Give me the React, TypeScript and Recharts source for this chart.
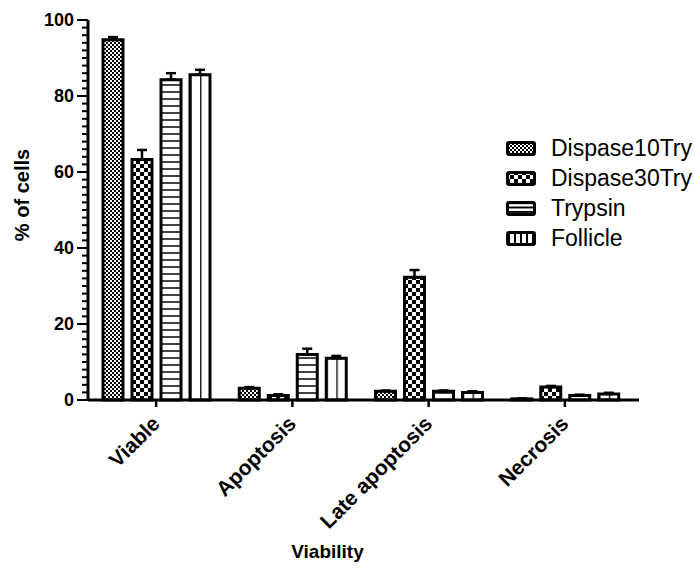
import React from "react"
import { BarChart, Bar, XAxis, YAxis, ErrorBar, Legend, Label } from "recharts"

const categories = ["Viable", "Apoptosis", "Late apoptosis", "Necrosis"]
const seriesNames = ["Dispase10Try", "Dispase30Try", "Trypsin", "Follicle"]
const dispase10 = [94.8, 3.1, 2.3, 0.3]
const dispase10Err = [0.7, 0.3, 0.2, 0.1]
const dispase30 = [63.3, 1.2, 32.3, 3.4]
const dispase30Err = [2.5, 0.3, 1.9, 0.3]
const trypsin = [84.3, 12.0, 2.3, 1.2]
const trypsinErr = [1.7, 1.5, 0.2, 0.2]
const follicle = [85.6, 11.0, 2.0, 1.6]
const follicleErr = [1.3, 0.6, 0.3, 0.3]
const yTicks = Array.from({ length: 51 }, (_, i) => i * 2)

const data = categories.map((name, i) => ({
  name,
  d10: dispase10[i],
  d10e: [0, dispase10Err[i]],
  d30: dispase30[i],
  d30e: [0, dispase30Err[i]],
  tr: trypsin[i],
  tre: [0, trypsinErr[i]],
  fo: follicle[i],
  foe: [0, follicleErr[i]],
}))

const FONT = "'Liberation Sans', Arial, Helvetica, sans-serif"
const fills = ["url(#pD10)", "url(#pD30)", "url(#pTr)", "url(#pFo)"]
const legendFills = ["url(#pD10)", "url(#pD30)", "url(#lTr)", "url(#lFo)"]

const Patterns = () => (
  <defs>
    <pattern id="pD10" width="4" height="4" patternUnits="userSpaceOnUse">
      <rect width="4" height="4" fill="#fff" />
      <rect width="2" height="2" fill="#000" />
      <rect x="2" y="2" width="2" height="2" fill="#000" />
    </pattern>
    <pattern id="pD30" width="8" height="8" patternUnits="userSpaceOnUse">
      <rect width="8" height="8" fill="#fff" />
      <rect width="4" height="4" fill="#000" />
      <rect x="4" y="4" width="4" height="4" fill="#000" />
    </pattern>
    <pattern id="pTr" width="7" height="7" patternUnits="userSpaceOnUse">
      <rect width="7" height="7" fill="#fff" />
      <rect y="0" width="7" height="2" fill="#444" />
    </pattern>
    <pattern id="pFo" width="0.5" height="1" patternUnits="objectBoundingBox">
      <rect width="100" height="1000" fill="#fff" />
      <rect x="0" width="1.5" height="1000" fill="#222" />
    </pattern>
    <pattern id="lTr" width="29" height="4.5" patternUnits="userSpaceOnUse" y="1">
      <rect width="29" height="4.5" fill="#fff" />
      <rect y="0" width="29" height="2" fill="#000" />
    </pattern>
    <pattern id="lFo" width="6" height="14" patternUnits="userSpaceOnUse" x="2">
      <rect width="6" height="14" fill="#fff" />
      <rect width="2" height="14" fill="#000" />
    </pattern>
  </defs>
)

const YTick = (props: any) => {
  const { x, y, payload } = props
  const v = payload.value
  const major = v % 20 === 0
  return (
    <g>
      <line x1={x} y1={y} x2={x - (major ? 11 : 6)} y2={y} stroke="#000" strokeWidth={2} />
      {major && (
        <text x={x - 14} y={y} dy={6} textAnchor="end" fontSize={18} fontWeight="bold" fill="#000" fontFamily={FONT}>
          {v}
        </text>
      )}
    </g>
  )
}

const XTick = (props: any) => {
  const { x, y, payload } = props
  const ax = x + 5
  const ay = y + 16
  return (
    <text
      x={ax}
      y={ay}
      textAnchor="end"
      transform={`rotate(-45, ${ax}, ${ay})`}
      fontSize={21}
      fontWeight="bold"
      fill="#000"
      fontFamily={FONT}
    >
      {payload.value}
    </text>
  )
}

const LegendContent = () => (
  <div style={{ fontFamily: FONT, fontSize: 23, color: "#000" }}>
    {seriesNames.map((n, i) => (
      <div key={n} style={{ display: "flex", alignItems: "center", height: 30 }}>
        <svg width={30} height={15} style={{ marginRight: 15 }}>
          <rect x={1.5} y={1.5} width={27} height={12} rx={1.5} fill={legendFills[i]} stroke="#000" strokeWidth={3} />
        </svg>
        <span>{n}</span>
      </div>
    ))}
  </div>
)

export default function App() {
  return (
    <div style={{ width: 694, height: 582, position: "relative", background: "#fff" }}>
      <style>{"body{margin:0}"}</style>
      <BarChart
        width={694}
        height={582}
        data={data}
        margin={{ top: 20, right: 55, bottom: 0, left: 0 }}
        barSize={20}
        barGap={9}
      >
        <Patterns />
        <XAxis
          dataKey="name"
          height={182}
          axisLine={{ stroke: "#000", strokeWidth: 3 }}
          tickLine={{ stroke: "#000", strokeWidth: 2.5 }}
          tickSize={7}
          tick={<XTick />}
          interval={0}
          padding={{ left: 0, right: 6 }}
        >
          <Label
            value="Viability"
            position="insideBottom"
            offset={24}
            dx={-36}
            style={{ fontSize: 19, fontWeight: "bold", fill: "#000", fontFamily: FONT }}
          />
        </XAxis>
        <YAxis
          width={88}
          domain={[0, 100]}
          ticks={yTicks}
          interval={0}
          tickSize={0}
          tickMargin={0}
          tick={<YTick />}
          axisLine={{ stroke: "#000", strokeWidth: 3 }}
          tickLine={false}
        >
          <Label
            content={() => (
              <text
                x={29}
                y={195}
                transform="rotate(-90, 29, 195)"
                textAnchor="middle"
                fontSize={20}
                fontWeight="bold"
                fill="#000"
                fontFamily={FONT}
              >
                % of cells
              </text>
            )}
          />
        </YAxis>
        <Legend
          layout="vertical"
          align="center"
          verticalAlign="middle"
          content={<LegendContent />}
          wrapperStyle={{ left: 506, top: 133, width: 188 }}
        />
        <Bar dataKey="d10" name={seriesNames[0]} fill={fills[0]} stroke="#000" strokeWidth={3} isAnimationActive={false}>
          <ErrorBar dataKey="d10e" width={5} stroke="#000" strokeWidth={2.5} direction="y" />
        </Bar>
        <Bar dataKey="d30" name={seriesNames[1]} fill={fills[1]} stroke="#000" strokeWidth={3} isAnimationActive={false}>
          <ErrorBar dataKey="d30e" width={5} stroke="#000" strokeWidth={2.5} direction="y" />
        </Bar>
        <Bar dataKey="tr" name={seriesNames[2]} fill={fills[2]} stroke="#000" strokeWidth={3} isAnimationActive={false}>
          <ErrorBar dataKey="tre" width={5} stroke="#000" strokeWidth={2.5} direction="y" />
        </Bar>
        <Bar dataKey="fo" name={seriesNames[3]} fill={fills[3]} stroke="#000" strokeWidth={3} isAnimationActive={false}>
          <ErrorBar dataKey="foe" width={5} stroke="#000" strokeWidth={2.5} direction="y" />
        </Bar>
      </BarChart>
    </div>
  )
}
